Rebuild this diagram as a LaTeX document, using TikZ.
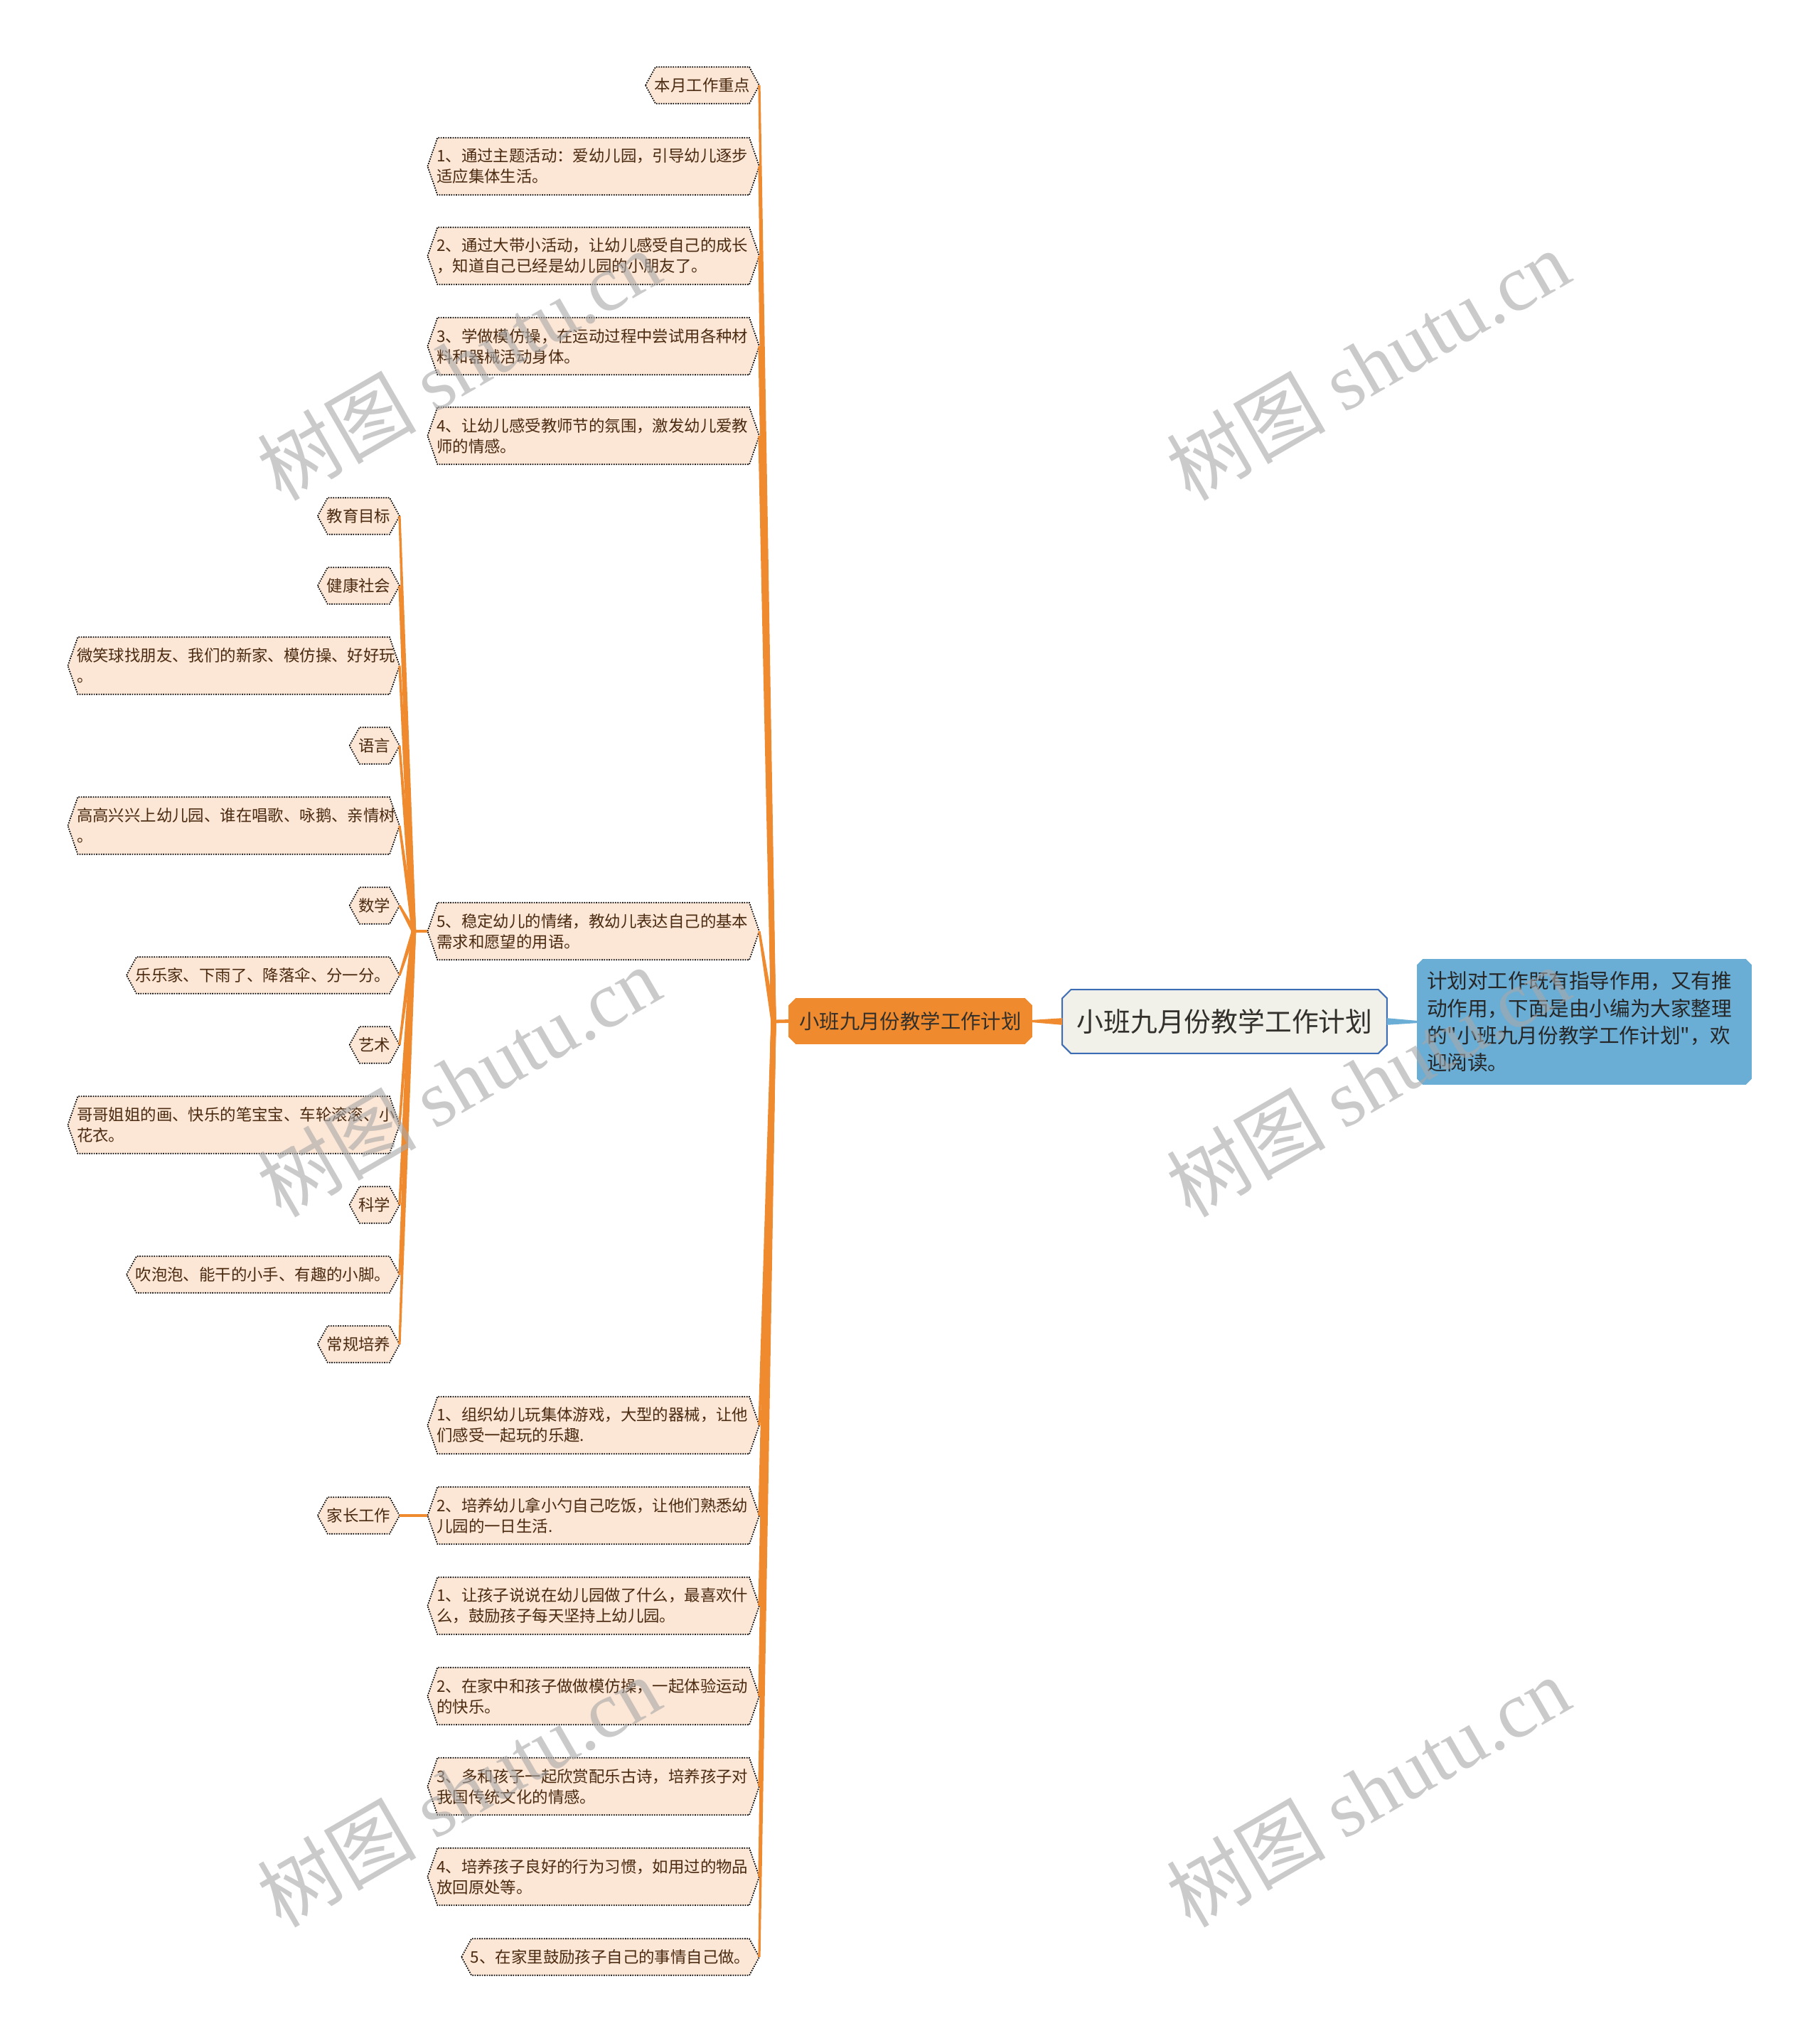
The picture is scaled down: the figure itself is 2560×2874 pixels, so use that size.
\documentclass[tikz,border=0pt]{standalone}
\usepackage{fontspec}
\setmainfont{Noto Sans CJK SC}
\newfontfamily\plaincjk{Noto Sans CJK SC}
\newfontfamily\wmlatin{Liberation Serif}
\usetikzlibrary{calc}
\pgfdeclarelayer{background}
\pgfdeclarelayer{canvas}
\pgfsetlayers{canvas,background,main}
\definecolor{orangeC}{HTML}{EF8A2E}
\definecolor{leafFill}{HTML}{FCE6D5}
\definecolor{leafText}{HTML}{4A2A10}
\definecolor{blueC}{HTML}{6AADD5}
\definecolor{rootFill}{HTML}{F1F1EA}
\definecolor{rootLine}{HTML}{3C6DB4}
\definecolor{wm}{HTML}{A8A8A8}
\definecolor{darkT}{HTML}{33302C}

\tikzset{
 leaf/.style={inner xsep=3pt, inner ysep=0pt, minimum height=12.5pt, text=leafText,
   font=\fontsize{5.6pt}{7.25pt}\selectfont, anchor=east},
 leafwide/.style={leaf, text width=110.25pt, align=left, minimum height=19.75pt},
 leafshape/.style={fill=leafFill, draw=black, line width=0.42pt, dash pattern=on 0.42pt off 0.42pt},
 conn/.style={fill=orangeC},
 bluelink/.style={fill=blueC},
 stub/.style={draw=orangeC, line width=1.2pt},
 orangebox/.style={inner sep=0pt, minimum width=85.25pt, minimum height=15.75pt, text=darkT,
   font=\fontsize{7.1pt}{8pt}\selectfont},
 rootbox/.style={inner sep=0pt, minimum width=113.75pt, minimum height=22pt, text=darkT,
   font=\fontsize{9.45pt}{11pt}\selectfont},
 bluebox/.style={inner xsep=3.25pt, inner ysep=0pt, text width=110.75pt, align=left,
   minimum height=43.75pt, text=black!85, font=\plaincjk\fontsize{7.15pt}{9.6pt}\selectfont},
 wmark/.style={text=wm, opacity=0.6, rotate=30, font=\fontsize{28pt}{30pt}\selectfont}
}

\newcommand\hexpath[1]{(#1.west) -- ([xshift=3.5pt]#1.north west) -- ([xshift=-3.5pt]#1.north east) -- (#1.east) -- ([xshift=-3.5pt]#1.south east) -- ([xshift=3.5pt]#1.south west) -- cycle}
\newcommand\octpath[2]{([yshift=-#2]#1.north west) -- ([xshift=#2]#1.north west) -- ([xshift=-#2]#1.north east) -- ([yshift=-#2]#1.north east) -- ([yshift=#2]#1.south east) -- ([xshift=-#2]#1.south east) -- ([xshift=#2]#1.south west) -- ([yshift=#2]#1.south west) -- cycle}
\newcommand\taper[4]{\fill[#4] ($(#1)!#3!90:(#2)$) -- ($(#2)!0.4pt!-90:(#1)$) -- ($(#2)!0.4pt!90:(#1)$) -- ($(#1)!#3!-90:(#2)$) -- cycle;}

\begin{document}
\begin{tikzpicture}[x=0.25pt,y=-0.25pt]
\begin{pgfonlayer}{canvas}
\fill[white] (0,0) rectangle (2560,2874);
\end{pgfonlayer}
\useasboundingbox (0,0) rectangle (2560,2874);

% central nodes
\node[orangebox] (orn) at (1280.5,1436.5) {小班九月份教学工作计划};
\node[rootbox] (root) at (1722.5,1437) {小班九月份教学工作计划};
\node[bluebox] (info) at (2228.5,1437.5) {计划对工作既有指导作用，又有推\\动作用，下面是由小编为大家整理\\的"小班九月份教学工作计划"，欢\\迎阅读。};

% children of orange node
\node[leaf] (a0) at (1068,120) {本月工作重点};
\node[leafwide] (a1) at (1068,234) {1、通过主题活动：爱幼儿园，引导幼儿逐步\\适应集体生活。};
\node[leafwide] (a2) at (1068,360) {2、通过大带小活动，让幼儿感受自己的成长\\，知道自己已经是幼儿园的小朋友了。};
\node[leafwide] (a3) at (1068,487) {3、学做模仿操，在运动过程中尝试用各种材\\料和器械活动身体。};
\node[leafwide] (a4) at (1068,613) {4、让幼儿感受教师节的氛围，激发幼儿爱教\\师的情感。};
\node[leafwide] (a5) at (1068,1310) {5、稳定幼儿的情绪，教幼儿表达自己的基本\\需求和愿望的用语。};
\node[leafwide] (a6) at (1068,2005) {1、组织幼儿玩集体游戏，大型的器械，让他\\们感受一起玩的乐趣.};
\node[leafwide] (a7) at (1068,2132) {2、培养幼儿拿小勺自己吃饭，让他们熟悉幼\\儿园的一日生活.};
\node[leafwide] (a8) at (1068,2259) {1、让孩子说说在幼儿园做了什么，最喜欢什\\么，鼓励孩子每天坚持上幼儿园。};
\node[leafwide] (a9) at (1068,2386) {2、在家中和孩子做做模仿操，一起体验运动\\的快乐。};
\node[leafwide] (a10) at (1068,2513) {3、多和孩子一起欣赏配乐古诗，培养孩子对\\我国传统文化的情感。};
\node[leafwide] (a11) at (1068,2640) {4、培养孩子良好的行为习惯，如用过的物品\\放回原处等。};
\node[leaf] (a12) at (1068,2753) {5、在家里鼓励孩子自己的事情自己做。};

% children of node a5
\node[leaf] (b1) at (562,726) {教育目标};
\node[leaf] (b2) at (562,824) {健康社会};
\node[leafwide] (b3) at (562,936.5) {微笑球找朋友、我们的新家、模仿操、好好玩\\。};
\node[leaf] (b4) at (562,1049) {语言};
\node[leafwide] (b5) at (562,1161.5) {高高兴兴上幼儿园、谁在唱歌、咏鹅、亲情树\\。};
\node[leaf] (b6) at (562,1274) {数学};
\node[leaf] (b7) at (562,1372) {乐乐家、下雨了、降落伞、分一分。};
\node[leaf] (b8) at (562,1470) {艺术};
\node[leafwide] (b9) at (562,1582.5) {哥哥姐姐的画、快乐的笔宝宝、车轮滚滚、小\\花衣。};
\node[leaf] (b10) at (562,1695) {科学};
\node[leaf] (b11) at (562,1793) {吹泡泡、能干的小手、有趣的小脚。};
\node[leaf] (b12) at (562,1891) {常规培养};

% child of a7
\node[leaf] (c1) at (562,2132) {家长工作};

% shapes
\begin{pgfonlayer}{background}
\foreach \n in {a0,a1,a2,a3,a4,a5,a6,a7,a8,a9,a10,a11,a12,b1,b2,b3,b4,b5,b6,b7,b8,b9,b10,b11,b12,c1}
  \path[leafshape] \hexpath{\n};
\fill[orangeC] \octpath{orn}{2.5pt};
\path[fill=rootFill, draw=rootLine, line width=0.5pt] \octpath{root}{3pt};
\fill[blueC] \octpath{info}{2pt};
\end{pgfonlayer}

% connectors
\coordinate (J1) at (1088,1437);
\coordinate (J2) at (582,1310);
\draw[stub] (orn.west) -- (J1);
\foreach \n in {a0,a1,a2,a3,a4,a5,a6,a7,a8,a9,a10,a11,a12}
  \taper{J1}{\n.east}{0.9pt}{conn}
\draw[stub] (a5.west) -- (J2);
\foreach \n in {b1,b2,b3,b4,b5,b6,b7,b8,b9,b10,b11,b12}
  \taper{J2}{\n.east}{0.8pt}{conn}
\draw[stub] (c1.east) -- (a7.west);
\taper{root.west}{orn.east}{1.2pt}{conn}
\taper{root.east}{info.west}{1.2pt}{bluelink}

% watermarks
\node[wmark] (w1) at (645,513) {树图 {\wmlatin shutu.cn}};
\node[wmark] (w2) at (1924,513) {树图 {\wmlatin shutu.cn}};
\node[wmark] (w3) at (645,1521) {树图 {\wmlatin shutu.cn}};
\node[wmark] (w4) at (1924,1521) {树图 {\wmlatin shutu.cn}};
\node[wmark] (w5) at (645,2520) {树图 {\wmlatin shutu.cn}};
\node[wmark] (w6) at (1924,2520) {树图 {\wmlatin shutu.cn}};
\end{tikzpicture}
\end{document}
